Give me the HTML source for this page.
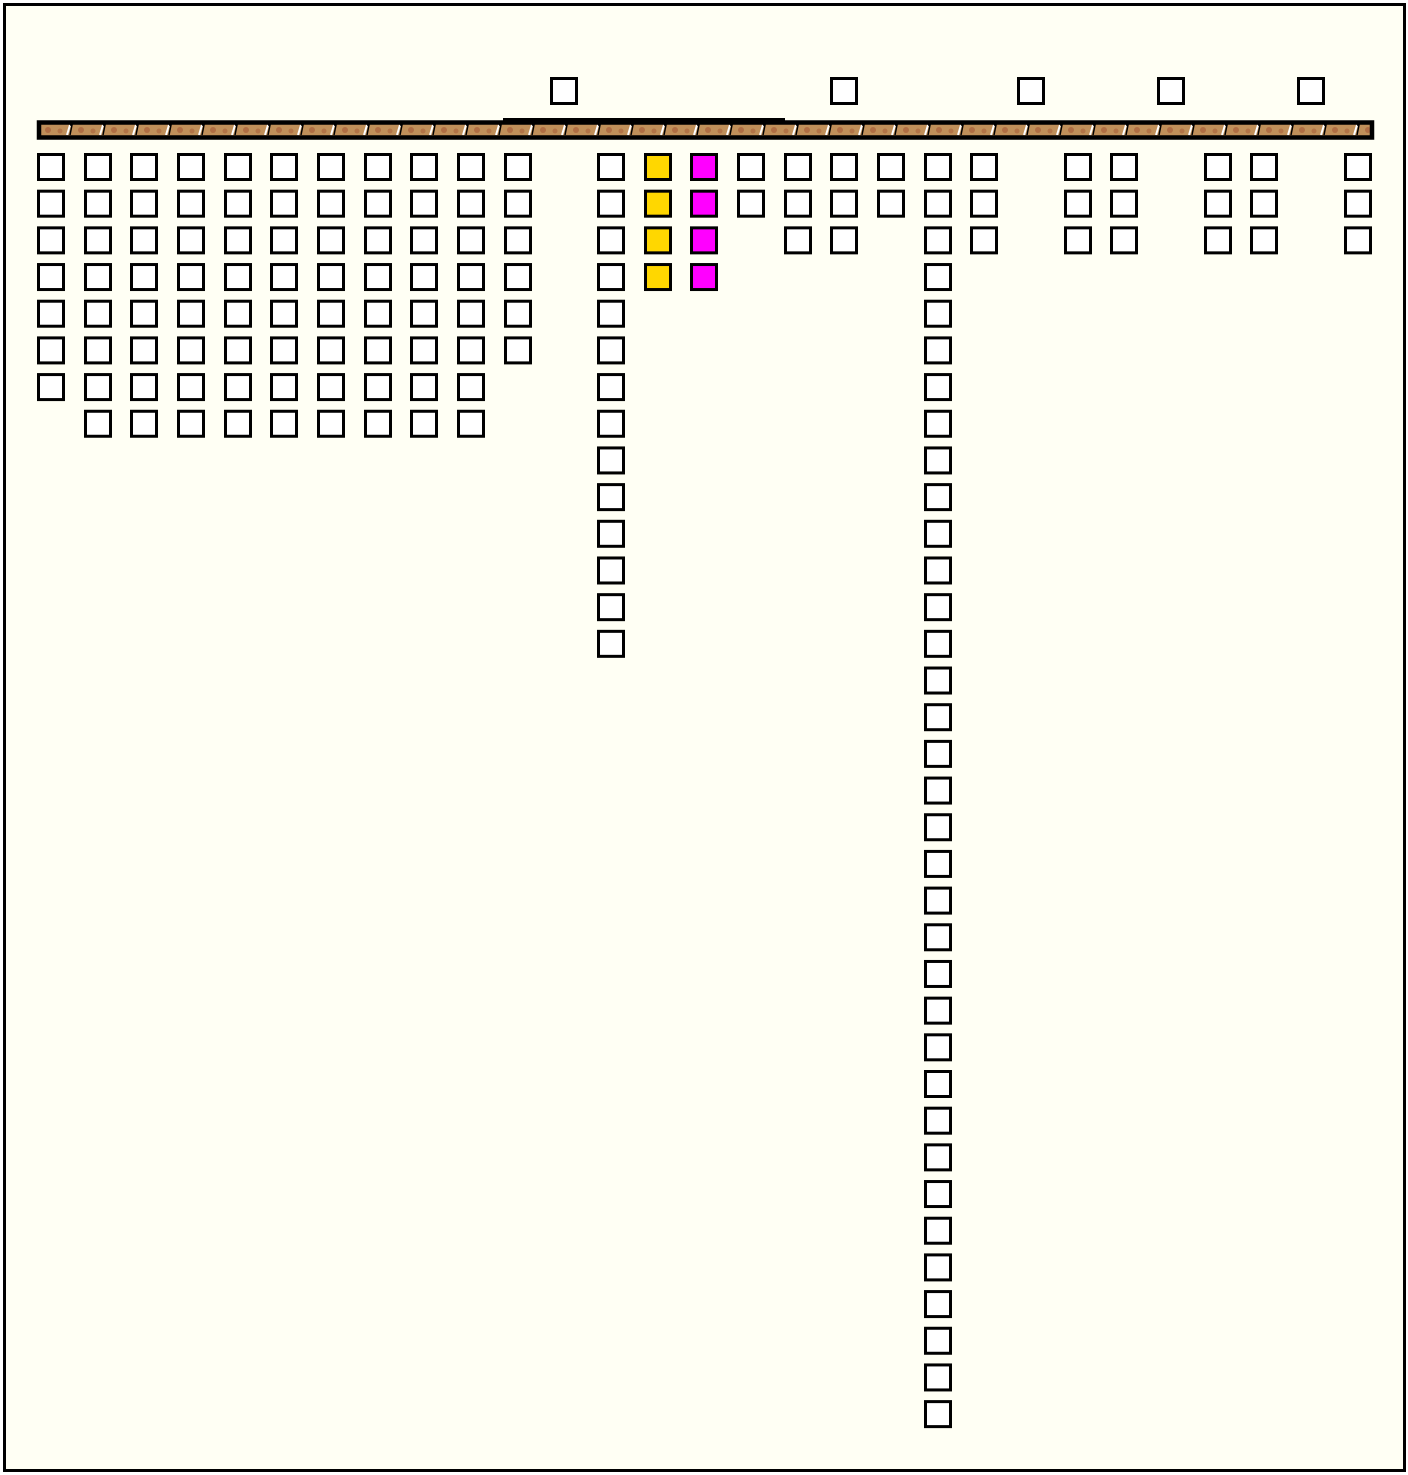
<!DOCTYPE html>
<html><head><meta charset="utf-8"><style>
html,body{margin:0;padding:0;background:#fff;}
svg{display:block;}
</style></head><body>
<svg width="1408" height="1475" viewBox="0 0 1408 1475" xmlns="http://www.w3.org/2000/svg" xmlns:xlink="http://www.w3.org/1999/xlink">
<defs>
<rect id="b" x="1.5" y="1.5" width="25" height="25" stroke="#000" stroke-width="3"/>
<g id="k2"><use xlink:href="#b"/><use xlink:href="#b" y="36.68"/></g>
<g id="k3"><use xlink:href="#k2"/><use xlink:href="#b" y="73.36"/></g>
<g id="k4"><use xlink:href="#k3"/><use xlink:href="#b" y="110.04"/></g>
<g id="k6"><use xlink:href="#k4"/><use xlink:href="#b" y="146.72"/><use xlink:href="#b" y="183.4"/></g>
<g id="k7"><use xlink:href="#k6"/><use xlink:href="#b" y="220.08"/></g>
<g id="k8"><use xlink:href="#k7"/><use xlink:href="#b" y="256.76"/></g>
<g id="k14"><use xlink:href="#k8"/><use xlink:href="#b" y="293.44"/><use xlink:href="#b" y="330.12"/><use xlink:href="#b" y="366.8"/><use xlink:href="#b" y="403.48"/><use xlink:href="#b" y="440.16"/><use xlink:href="#b" y="476.84"/></g>
<g id="k35"><use xlink:href="#k14"/><use xlink:href="#k14" y="513.52"/><use xlink:href="#k7" y="1027.04"/></g>
<pattern id="bar" patternUnits="userSpaceOnUse" x="40" y="124" width="33" height="12">
<rect width="33" height="12" fill="#c0905a"/>
<circle cx="8" cy="6" r="3" fill="#a8603a" opacity="0.7"/>
<circle cx="20" cy="7" r="2.5" fill="#a8603a" opacity="0.6"/>
<path d="M27 11 L30 1" stroke="#fff" stroke-width="2"/>
<path d="M30 1 L32 1 L30 11" stroke="#000" stroke-width="1.5" fill="none"/>
</pattern>
</defs>
<rect x="4.5" y="4.5" width="1400" height="1466" fill="#fffff4" stroke="#000" stroke-width="3"/>
<rect x="39" y="122.5" width="1333" height="15" fill="url(#bar)" stroke="#000" stroke-width="4.5"/>
<rect x="503" y="118" width="282" height="4" fill="#000"/>
<g fill="#fff">
<use xlink:href="#b" x="550" y="77"/>
<use xlink:href="#b" x="830" y="77"/>
<use xlink:href="#b" x="1017" y="77"/>
<use xlink:href="#b" x="1157" y="77"/>
<use xlink:href="#b" x="1297" y="77"/>
<use xlink:href="#k7" x="37" y="153"/>
<use xlink:href="#k8" x="84" y="153"/>
<use xlink:href="#k8" x="130" y="153"/>
<use xlink:href="#k8" x="177" y="153"/>
<use xlink:href="#k8" x="224" y="153"/>
<use xlink:href="#k8" x="270" y="153"/>
<use xlink:href="#k8" x="317" y="153"/>
<use xlink:href="#k8" x="364" y="153"/>
<use xlink:href="#k8" x="410" y="153"/>
<use xlink:href="#k8" x="457" y="153"/>
<use xlink:href="#k6" x="504" y="153"/>
<use xlink:href="#k14" x="597" y="153"/>
<use xlink:href="#k2" x="737" y="153"/>
<use xlink:href="#k3" x="784" y="153"/>
<use xlink:href="#k3" x="830" y="153"/>
<use xlink:href="#k2" x="877" y="153"/>
<use xlink:href="#k35" x="924" y="153"/>
<use xlink:href="#k3" x="970" y="153"/>
<use xlink:href="#k3" x="1064" y="153"/>
<use xlink:href="#k3" x="1110" y="153"/>
<use xlink:href="#k3" x="1204" y="153"/>
<use xlink:href="#k3" x="1250" y="153"/>
<use xlink:href="#k3" x="1344" y="153"/>
</g>
<g fill="#ffd700"><use xlink:href="#k4" x="644" y="153"/></g>
<g fill="#ff00ff"><use xlink:href="#k4" x="690" y="153"/></g>
</svg>
</body></html>
